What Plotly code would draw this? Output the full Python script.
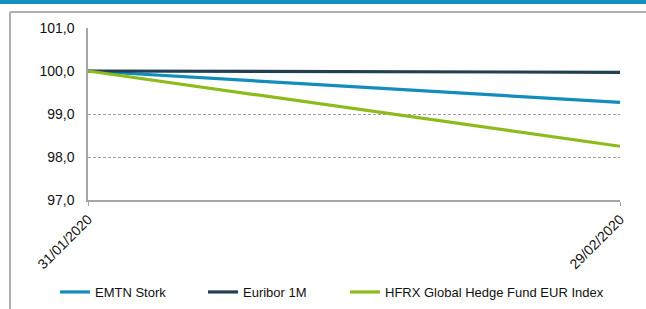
import plotly.graph_objects as go

dates = ["31/01/2020", "29/02/2020"]
emtn = [100.0, 99.27]
euribor = [100.0, 99.97]
hfrx = [100.0, 98.25]
names = ["EMTN Stork", "Euribor 1M", "HFRX Global Hedge Fund EUR Index"]
colors = ["#138dbb", "#233f52", "#8cbb1c"]
yticks = [97, 98, 99, 100, 101]

W, H = 646, 309
fig = go.Figure()
series = [emtn, euribor, hfrx]
legends = ["legend", "legend2", "legend3"]
for s, n, c, lg in zip(series, names, colors, legends):
    fig.add_trace(go.Scatter(x=[0, 1], y=s, mode="lines", name=n, showlegend=True,
                             line=dict(color=c, width=3.2), legend=lg))

font = dict(family="Liberation Sans, Arial, sans-serif", size=14, color="#111111")
legfont = dict(family="Liberation Sans, Arial, sans-serif", size=13, color="#111111")


def leg(x):
    return dict(orientation="h", xanchor="left", yanchor="middle", x=x, y=1 - 292 / H,
                font=legfont, bgcolor="rgba(0,0,0,0)", itemwidth=30)


fig.update_layout(
    width=W, height=H, margin=dict(l=0, r=0, t=0, b=0),
    paper_bgcolor="white", plot_bgcolor="white",
    separators=", ", font=font,
    xaxis=dict(domain=[88 / W, 620 / W], range=[0, 1], tickvals=[0, 1], ticktext=dates,
               tickangle=-45, showgrid=False, showline=True, linecolor="#a6a6a6", linewidth=1.5,
               ticks="outside", ticklen=4, tickcolor="#a6a6a6", zeroline=False, automargin=False,
               tickfont=font),
    yaxis=dict(domain=[1 - 200 / H, 1 - 28 / H], range=[97, 101], tickvals=yticks,
               tickformat=".1f", showgrid=True, gridcolor="#a0a0a0", griddash="3px,2px", gridwidth=1,
               showline=True, linecolor="#a6a6a6", linewidth=1.5, zeroline=False,
               ticks="", ticklabelstandoff=9, automargin=False, tickfont=font),
    legend=leg(55 / W),
    legend2=leg(203 / W),
    legend3=leg(345 / W),
    shapes=[
        dict(type="rect", xref="paper", yref="paper", x0=0, x1=1, y0=1 - 4 / H, y1=1,
             fillcolor="#1590c0", line=dict(width=0), layer="below"),
        dict(type="line", xref="paper", yref="paper", x0=10 / W, x1=1, y0=1 - 12 / H, y1=1 - 12 / H,
             line=dict(color="#b0b0b0", width=2)),
        dict(type="line", xref="paper", yref="paper", x0=10 / W, x1=10 / W, y0=0, y1=1 - 12 / H,
             line=dict(color="#b0b0b0", width=2)),
    ],
)
fig.write_html("out.html", config={"displayModeBar": False},
               post_script="document.body.style.margin='0';")
